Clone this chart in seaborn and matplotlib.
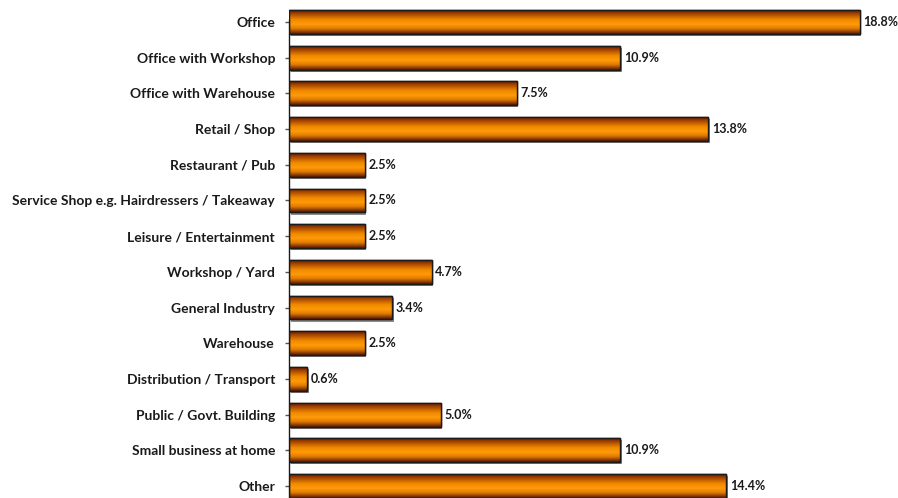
import numpy as np
import pandas as pd
import matplotlib
matplotlib.use("Agg")
import matplotlib.pyplot as plt
import seaborn as sns
from matplotlib.colors import LinearSegmentedColormap
from matplotlib.patches import Rectangle

categories = ["Office", "Office with Workshop", "Office with Warehouse", "Retail / Shop",
              "Restaurant / Pub", "Service Shop e.g. Hairdressers / Takeaway",
              "Leisure / Entertainment", "Workshop / Yard", "General Industry", "Warehouse",
              "Distribution / Transport", "Public / Govt. Building", "Small business at home",
              "Other"]
values = [18.8, 10.9, 7.5, 13.8, 2.5, 2.5, 2.5, 4.7, 3.4, 2.5, 0.6, 5.0, 10.9, 14.4]
value_labels = ["18.8%", "10.9%", "7.5%", "13.8%", "2.5%", "2.5%", "2.5%", "4.7%", "3.4%",
                "2.5%", "0.6%", "5.0%", "10.9%", "14.4%"]

df = pd.DataFrame({"category": categories, "value": values})

sns.set_theme(style="white")
plt.rcParams["font.family"] = ["Lato", "DejaVu Sans"]
plt.rcParams["font.weight"] = "bold"

fig = plt.figure(figsize=(8.98, 4.98), dpi=100)
px_per_unit = 30.37
left_px = 289
ax = fig.add_axes([left_px / 898, (498 - 503.85) / 498, (898 - left_px) / 898, 499.7 / 498])

sns.barplot(data=df, x="value", y="category", orient="h", ax=ax, width=0.67,
            color="#ff9900", edgecolor="#1a1a1a", linewidth=1.0, saturation=1)

ax.set_xlim(0, (898 - left_px) / px_per_unit)
ax.set_ylim(13.5, -0.5)

cmap = LinearSegmentedColormap.from_list(
    "bar", [(0.0, "#6a1c00"), (0.18, "#b04e00"), (0.4, "#f08a00"), (0.6, "#ff9a08"),
            (0.78, "#e07a00"), (1.0, "#5a1800")])
grad = np.linspace(0, 1, 64).reshape(-1, 1)

for p, lab in zip(ax.patches, value_labels):
    x0, y0 = p.get_x(), p.get_y()
    w, h = p.get_width(), p.get_height()
    sh = Rectangle((x0 + 0.05, y0 + 0.06), w, h, facecolor="#8c8c8c", edgecolor="none",
                   zorder=p.get_zorder() - 0.2)
    ax.add_patch(sh)
    im = ax.imshow(grad, cmap=cmap, aspect="auto", extent=(x0, x0 + w, y0 + h, y0),
                   zorder=p.get_zorder() + 0.1, interpolation="bilinear")
    im.set_clip_path(p)
    edge = Rectangle((x0, y0), w, h, facecolor="none", edgecolor="#1a1a1a", linewidth=1.0,
                     zorder=p.get_zorder() + 0.2)
    ax.add_patch(edge)
    ax.text(x0 + w + 0.12, y0 + h / 2, lab, va="center", ha="left", fontsize=9,
            fontweight="bold", color="#1a1a1a")

ax.set_xlabel("")
ax.set_ylabel("")
ax.set_xticks([])
for s in ["top", "right", "bottom"]:
    ax.spines[s].set_visible(False)
ax.spines["left"].set_color("#1a1a1a")
ax.spines["left"].set_linewidth(1.0)
ax.spines["left"].set_bounds(-0.05, 13.5)
ax.tick_params(axis="y", left=True, length=3, width=1, color="#555555", pad=7,
               labelsize=10, labelcolor="#1a1a1a")
for t in ax.get_yticklabels():
    t.set_fontweight("bold")

fig.savefig("out.png", dpi=100)
